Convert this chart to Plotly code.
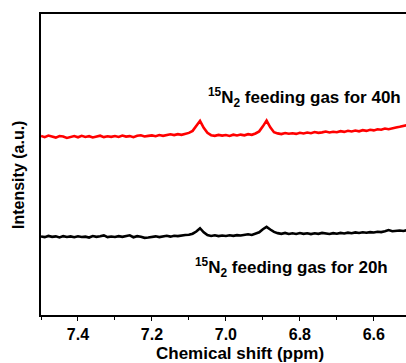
import numpy as np
import plotly.graph_objects as go

# chemical shift grid (ppm), 7.50 -> 6.51
shift = np.round(np.arange(7.50, 6.505, -0.01), 2)

red_40h = [
    178.5, 177.2, 178.8, 177.5, 176.8, 178.4, 177.9, 176.5, 177.6, 178.3,
    177.1, 178.6, 177.4, 178.2, 176.9, 177.8, 178.7, 177.3, 178.1, 177.6,
    178.4, 177.5, 178.9, 177.8, 178.3, 177.2, 178.6, 179.1, 177.9, 178.5,
    179.0, 178.2, 179.4, 178.6, 179.2, 180.1, 179.3, 180.2, 179.6, 180.8,
    181.5, 183.5, 188.0, 193.5, 186.5, 181.5, 179.2, 178.6, 179.5, 178.8,
    179.4, 178.5, 179.7, 178.9, 179.8, 179.1, 180.2, 179.6, 180.9, 183.0,
    188.0, 193.8, 187.0, 182.2, 181.0, 180.3, 181.4, 180.6, 181.2, 180.5,
    181.6, 180.9, 181.8, 181.2, 182.3, 181.5, 182.0, 182.8, 181.9, 182.6,
    182.1, 183.2, 182.5, 183.6, 182.9, 183.8, 183.1, 184.2, 183.5, 184.6,
    184.0, 185.1, 184.6, 185.8, 185.2, 186.4, 186.9, 187.6, 188.3, 189.2,
]

black_20h = [
    78.2, 77.6, 78.8, 77.9, 78.4, 77.3, 78.6, 77.8, 78.3, 77.5,
    78.5, 77.8, 78.1, 77.2, 78.7, 77.9, 78.4, 79.3, 77.6, 78.2,
    77.7, 78.6, 77.9, 78.3, 79.4, 77.5, 78.6, 78.0, 76.9, 77.3,
    77.8, 78.4, 77.6, 78.2, 78.9, 78.1, 79.0, 78.6, 79.4, 79.8,
    79.9, 81.0, 83.2, 86.5, 82.4, 79.6, 78.8, 79.4, 78.6, 79.2,
    78.7, 79.5, 78.9, 79.6, 79.2, 79.9, 80.4, 79.8, 81.0, 82.5,
    85.5, 87.8, 85.2, 82.8, 81.6, 80.9, 81.8, 80.7, 81.5, 80.8,
    81.7, 80.9, 81.4, 80.6, 81.5, 80.9, 81.8, 81.2, 80.7, 81.6,
    81.0, 81.8, 81.3, 82.1, 81.5, 82.3, 81.7, 82.5, 82.0, 82.6,
    82.3, 83.0, 82.6, 83.4, 84.6, 83.5, 83.9, 84.2, 83.8, 84.5,
]

tick_vals = [7.4, 7.2, 7.0, 6.8, 6.6]
tick_text = ["7.4", "7.2", "7.0", "6.8", "6.6"]
label_40h = "<sup>15</sup>N<sub>2</sub> feeding gas for 40h"
label_20h = "<sup>15</sup>N<sub>2</sub> feeding gas for 20h"

FONT = "Arial, Liberation Sans, sans-serif"

fig = go.Figure()
fig.add_trace(go.Scatter(x=shift, y=red_40h, mode="lines",
                         line=dict(color="#ff0000", width=2.6), showlegend=False))
fig.add_trace(go.Scatter(x=shift, y=black_20h, mode="lines",
                         line=dict(color="#000000", width=2.6), showlegend=False))

pw, ph = 406 - 41, 363 - 14 - 48
def px(xp):
    return (xp - 41) / pw
def py(yp):
    return (363 - 48 - yp) / ph

fig.update_layout(
    width=406, height=363,
    margin=dict(l=41, r=0, t=14, b=48),
    plot_bgcolor="white", paper_bgcolor="white",
    font=dict(family=FONT, color="black"),
    xaxis=dict(
        range=[7.5, 6.513], showgrid=False, zeroline=False,
        showline=True, linecolor="black", linewidth=1.5, mirror=True,
        ticks="outside", ticklen=4, tickwidth=1.2, tickcolor="black",
        tickvals=tick_vals, ticktext=tick_text,
        tickfont=dict(size=16, family=FONT, weight="bold"),
        minor=dict(dtick=0.1, tick0=7.5, ticks="outside", ticklen=3,
                   tickwidth=1.2, tickcolor="black", showgrid=False),
    ),
    yaxis=dict(
        range=[0, 300], showgrid=False, zeroline=False,
        showline=True, linecolor="black", linewidth=1.5, mirror=False,
        showticklabels=False, ticks="",
    ),
    annotations=[
        dict(text="<b>Chemical shift (ppm)</b>", x=px(240), y=py(353),
             xref="paper", yref="paper", xanchor="center", yanchor="middle",
             showarrow=False, font=dict(size=17, family=FONT)),
        dict(text="<b>Intensity (a.u.)</b>", x=px(18), y=py(175),
             xref="paper", yref="paper", xanchor="center", yanchor="middle",
             showarrow=False, font=dict(size=16, family=FONT), textangle=-90),
        dict(text="<b>" + label_40h + "</b>", x=px(304), y=py(97),
             xref="paper", yref="paper", xanchor="center", yanchor="middle",
             showarrow=False, font=dict(size=17, family=FONT)),
        dict(text="<b>" + label_20h + "</b>", x=px(291), y=py(267),
             xref="paper", yref="paper", xanchor="center", yanchor="middle",
             showarrow=False, font=dict(size=17, family=FONT)),
    ],
)

fig.write_html("out.html")
